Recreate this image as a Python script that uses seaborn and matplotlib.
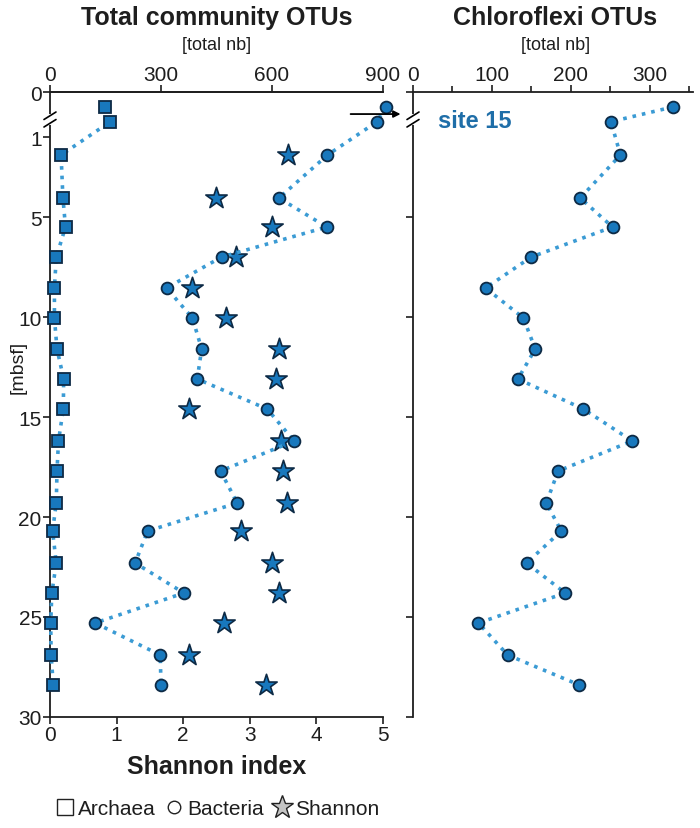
import numpy as np
import matplotlib.pyplot as plt
import seaborn as sns
from matplotlib.lines import Line2D


# ==============================
# Data
# ==============================

depth = [0.33, 0.66, 1.9, 4.05, 5.5, 7.0, 8.55, 10.05, 11.6, 13.1,
         14.6, 16.2, 17.7, 19.3, 20.7, 22.3, 23.8, 25.3, 26.9, 28.4]
archaea = [150, 163, 30, 35, 42, 17, 12, 12, 19, 37,
           36, 23, 19, 17, 7, 17, 5, 2, 3, 9]
bacteria = [907, 884, 750, 619, 748, 464, 315, 385, 410, 398,
            587, 660, 461, 506, 264, 230, 362, 122, 298, 300]
shannon_depth = depth[2:]
shannon = [3.58, 2.50, 3.34, 2.79, 2.14, 2.64, 3.44, 3.39, 2.09,
           3.47, 3.50, 3.56, 2.87, 3.33, 3.44, 2.61, 2.08, 3.24]
chloroflexi = [330, 251, 263, 212, 253, 150, 92, 140, 155, 133,
               216, 278, 184, 169, 188, 144, 193, 83, 120, 211]

depth_ticks = [0, 1, 5, 10, 15, 20, 25, 30]
otu_ticks = [0, 300, 600, 900]
chloro_ticks = [0, 100, 200, 300]
shannon_ticks = [0, 1, 2, 3, 4, 5]

# ==============================
# Style
# ==============================

sns.set_style("ticks")
plt.rcParams["font.family"] = ["Liberation Sans", "DejaVu Sans"]

FILL = "#1878bd"
EDGE = "#0d2a45"
LINE = "#3b9bd4"
TEXT = "#1e1e1e"
plt.rcParams["text.color"] = TEXT
plt.rcParams["xtick.color"] = TEXT
plt.rcParams["ytick.color"] = TEXT
plt.rcParams["axes.edgecolor"] = TEXT


# broken depth axis: first metre stretched, then linear
def fwd(d):
    d = np.asarray(d, dtype=float)
    return np.where(d <= 1, 2.25 * d, d + 1.25)


def inv(v):
    v = np.asarray(v, dtype=float)
    return np.where(v <= 2.25, v / 2.25, v - 1.25)


fig = plt.figure(figsize=(7, 8.29), dpi=100)
ax = fig.add_axes([0.0714, 0.1339, 0.4757, 0.7539])
ax_top = ax.twiny()
ax2 = fig.add_axes([0.59, 0.1339, 0.40, 0.7539])

line_kw = dict(sort=False, estimator=None, color=LINE, linestyle=":",
               linewidth=2.6, markeredgecolor=EDGE, markeredgewidth=1.3,
               markerfacecolor=FILL, legend=False, clip_on=False)

# ==============================
# Left panel
# ==============================

sns.lineplot(x=archaea, y=depth, ax=ax_top, marker="s", markersize=8, **line_kw)
sns.lineplot(x=bacteria, y=depth, ax=ax_top, marker="o", markersize=8.5, **line_kw)
sns.scatterplot(x=shannon, y=shannon_depth, ax=ax, marker="*", s=260,
                color=FILL, edgecolor=EDGE, linewidth=1.2, zorder=5)

for a in (ax, ax2):
    a.set_yscale("function", functions=(fwd, inv))
    a.set_ylim(30, 0)
    a.set_yticks(depth_ticks)

ax.set_xlim(0, 5)
ax.set_xticks(shannon_ticks)
ax.set_yticklabels([str(t) for t in depth_ticks])
ax_top.set_xlim(0, 900)
ax_top.set_xticks(otu_ticks)
ax.set_xlabel("")
ax.set_ylabel("")
ax_top.set_xlabel("")
ax_top.set_ylabel("")

ax.spines["right"].set_visible(False)
for s in ("right", "bottom", "left"):
    ax_top.spines[s].set_visible(False)
for s in ("top", "left", "bottom"):
    ax.spines[s].set_linewidth(1.3)
ax_top.spines["top"].set_linewidth(1.3)

ax.tick_params(axis="both", direction="out", length=5, width=1.2,
               labelsize=15, pad=1)
ax_top.tick_params(axis="x", direction="out", length=5, width=1.2,
                   labelsize=15, pad=1)

# arrow pointing to the right panel
ax_top.annotate("", xy=(955, 0.49), xytext=(805, 0.49),
                arrowprops=dict(arrowstyle="-|>", color="black", lw=1.3),
                annotation_clip=False)

# ==============================
# Right panel
# ==============================

sns.lineplot(x=chloroflexi, y=depth, ax=ax2, marker="o", markersize=8.5, **line_kw)
ax2.set_yscale("function", functions=(fwd, inv))
ax2.set_ylim(30, 0)
ax2.set_xlim(0, 355)
ax2.set_xticks(chloro_ticks)
ax2.set_xticks([50, 150, 250, 350], minor=True)
ax2.xaxis.tick_top()
ax2.set_yticklabels([])
ax2.set_xlabel("")
ax2.set_ylabel("")
ax2.spines["right"].set_visible(False)
ax2.spines["bottom"].set_visible(False)
for s in ("top", "left"):
    ax2.spines[s].set_linewidth(1.3)
ax2.tick_params(axis="both", which="both", direction="out", length=5,
                width=1.2, labelsize=15, pad=1)
ax2.tick_params(axis="x", which="minor", length=4)
ax2.text(0.09, 0.955, "site 15", transform=ax2.transAxes, color="#1f6ea8",
         fontsize=17, fontweight="bold", va="center", ha="left")

# axis break marks
for a, w in ((ax, 0.4757), (ax2, 0.40)):
    dx = 6 / (700 * w)
    for off in (-0.006, 0.006):
        a.plot([-dx, dx], [0.950 + off, 0.962 + off], transform=a.transAxes,
               color="black", lw=1.2, clip_on=False, zorder=10)
    a.plot([0, 0], [0.950, 0.962], transform=a.transAxes, color="white",
           lw=3, clip_on=False, zorder=9)

# ==============================
# Titles and labels
# ==============================

fig.text(0.31, 0.978, "Total community OTUs", ha="center", va="center",
         fontsize=18, fontweight="bold")
fig.text(0.31, 0.945, "[total nb]", ha="center", va="center", fontsize=13)
fig.text(0.793, 0.978, "Chloroflexi OTUs", ha="center", va="center",
         fontsize=18, fontweight="bold")
fig.text(0.793, 0.945, "[total nb]", ha="center", va="center", fontsize=13)
fig.text(0.026, 0.557, "[mbsf]", rotation=90, ha="center", va="center",
         fontsize=14)
fig.text(0.31, 0.075, "Shannon index", ha="center", va="center",
         fontsize=18, fontweight="bold")

handles = [
    Line2D([], [], marker="s", linestyle="", markersize=11,
           markerfacecolor="white", markeredgecolor="#222222"),
    Line2D([], [], marker="o", linestyle="", markersize=9,
           markerfacecolor="white", markeredgecolor="#222222"),
    Line2D([], [], marker="*", linestyle="", markersize=17,
           markerfacecolor="#c4c4c4", markeredgecolor="#222222"),
]
fig.legend(handles, ["Archaea", "Bacteria", "Shannon"], loc="center",
           bbox_to_anchor=(0.31, 0.023), ncol=3, frameon=False, fontsize=15,
           handletextpad=0.1, columnspacing=0.4, handlelength=1.0)

fig.savefig("out.png", dpi=100)
